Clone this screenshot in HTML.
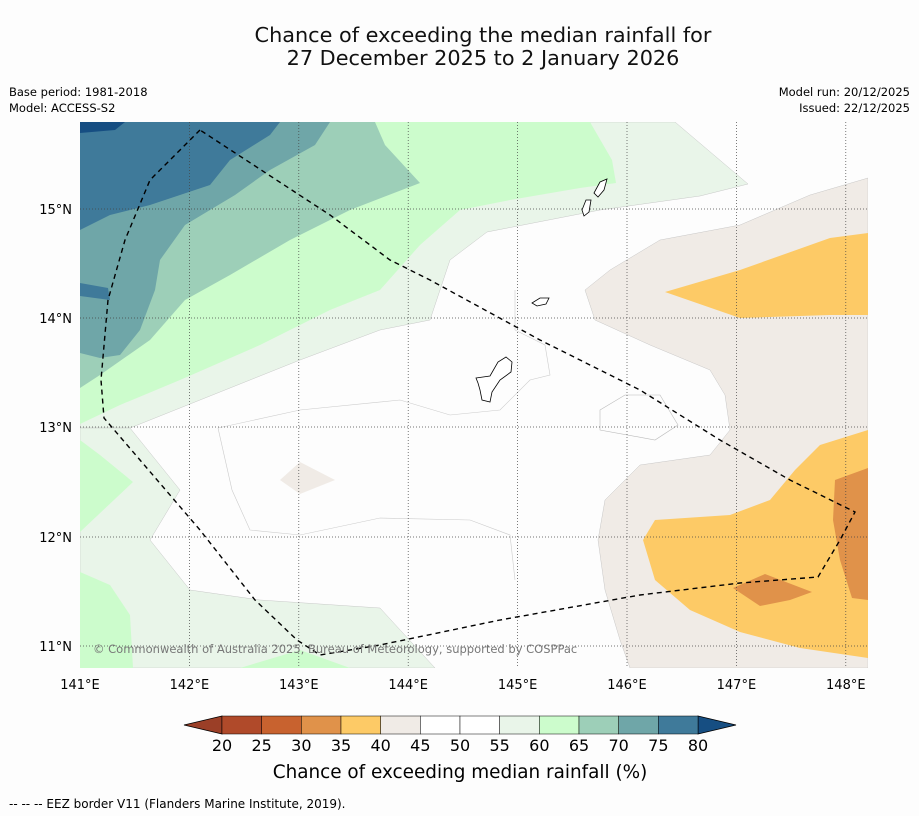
<!DOCTYPE html>
<html><head><meta charset="utf-8"><style>
body{margin:0;background:#fdfdfd;font-family:"DejaVu Sans","Liberation Sans",sans-serif;}
svg{display:block}
</style></head><body>
<svg width="919" height="816" viewBox="0 0 919 816" font-family="DejaVu Sans, Liberation Sans, sans-serif">
<rect width="919" height="816" fill="#fdfdfd"/>
<text x="483" y="42" font-size="20.8" text-anchor="middle" fill="#111">Chance of exceeding the median rainfall for</text>
<text x="483" y="65" font-size="20.8" text-anchor="middle" fill="#111">27 December 2025 to 2 January 2026</text>
<text x="9" y="96" font-size="11.5">Base period: 1981-2018</text>
<text x="9" y="112" font-size="11.5">Model: ACCESS-S2</text>
<text x="910" y="96" font-size="11.5" text-anchor="end">Model run: 20/12/2025</text>
<text x="910" y="112" font-size="11.5" text-anchor="end">Issued: 22/12/2025</text>
<defs><clipPath id="mc"><rect x="80" y="122" width="788" height="546"/></clipPath></defs>
<g clip-path="url(#mc)">
<rect x="80" y="122" width="788" height="546" fill="#fdfdfd"/>
<polygon fill="#e9f5e9" stroke="#bbb" stroke-width="0.4" points="80,122 675,122 748,184 700,196 600,210 487,232 450,260 430,320 380,330 300,360 200,400 130,428 80,428"/>
<polygon fill="#e9f5e9" stroke="#bbb" stroke-width="0.4" points="80,428 130,428 180,490 150,540 190,590 260,600 380,608 435,668 80,668"/>
<polygon fill="#ccfccc" points="80,122 590,122 612,160 616,183 580,188 510,200 460,210 420,245 380,290 330,310 260,345 180,380 120,405 80,424"/>
<polygon fill="#ccfccc" points="80,572 110,585 130,615 133,668 80,668"/>
<polygon fill="#ccfccc" points="80,440 100,455 133,482 80,532"/>
<polygon fill="#ccfccc" points="240,668 300,650 350,668"/>
<polygon fill="#9dcfb8" points="80,122 375,122 385,145 420,183 350,210 290,240 230,275 185,300 150,340 100,375 80,388"/>
<polygon fill="#6fa6a8" points="80,122 330,122 315,145 270,170 235,195 185,225 160,260 155,290 140,330 120,355 100,358 80,353"/>
<polygon fill="#3f7a9a" points="80,122 280,122 270,135 230,160 210,185 150,205 110,215 80,230"/>
<polygon fill="#3f7a9a" points="80,283 108,288 110,300 80,296"/>
<polygon fill="#164e82" points="80,122 125,122 115,130 80,133"/>
<polygon fill="#f0ebe6" stroke="#bbb" stroke-width="0.4" points="868,178 810,195 740,225 660,240 610,270 585,290 595,320 650,345 710,370 725,395 730,430 710,455 640,465 605,500 598,540 605,590 620,640 630,668 868,668"/>
<polygon fill="#f0ebe6" points="280,480 300,462 335,480 300,494"/>
<polygon fill="none" stroke="#bbb" stroke-width="0.6" points="600,410 625,395 660,395 678,425 655,440 600,430"/>
<polyline fill="none" stroke="#ccc" stroke-width="0.6" points="218,428 300,410 400,400 450,415 500,410 530,380 550,375 545,345 515,330 515,290"/>
<polyline fill="none" stroke="#ccc" stroke-width="0.6" points="218,428 232,490 250,530 300,535 380,518 470,520 510,535 515,580"/>
<polygon fill="#fdca66" points="665,292 740,270 830,238 868,233 868,315 830,315 740,318"/>
<polygon fill="#fdca66" points="868,430 820,445 795,470 770,500 730,515 655,520 643,540 655,580 690,610 740,632 800,648 868,658"/>
<polygon fill="#e0924a" points="868,468 835,480 833,520 840,560 852,598 868,600"/>
<polygon fill="#e0924a" points="733,588 765,574 812,592 790,600 760,606"/>
<g stroke="#444" stroke-width="0.7" stroke-dasharray="1,2">
<line x1="189.4" y1="122" x2="189.4" y2="668"/><line x1="298.8" y1="122" x2="298.8" y2="668"/><line x1="408.2" y1="122" x2="408.2" y2="668"/><line x1="517.6" y1="122" x2="517.6" y2="668"/><line x1="627" y1="122" x2="627" y2="668"/><line x1="736.4" y1="122" x2="736.4" y2="668"/><line x1="845.8" y1="122" x2="845.8" y2="668"/>
<line x1="80" y1="209" x2="868" y2="209"/><line x1="80" y1="318" x2="868" y2="318"/><line x1="80" y1="427" x2="868" y2="427"/><line x1="80" y1="537" x2="868" y2="537"/><line x1="80" y1="646" x2="868" y2="646"/>
</g>
<polygon fill="#fff" stroke="#000" stroke-width="0.8" points="476,378 490,376 498,362 506,357 512,362 511,372 500,380 492,392 490,402 482,400 480,390 478,383"/>
<polygon fill="#fff" stroke="#000" stroke-width="0.8" points="532,303 540,298 549,298 546,304 537,306"/>
<polygon fill="#fff" stroke="#000" stroke-width="0.8" points="582,210 586,200 591,200 589,212 584,216"/>
<polygon fill="#fff" stroke="#000" stroke-width="0.8" points="594,193 600,182 607,179 604,190 598,197"/>
<polyline fill="none" stroke="#000" stroke-width="1.4" stroke-dasharray="5,4" points="200,130 150,180 125,240 108,300 101,380 104,418 140,460 200,530 255,600 297,640 320,655 380,645 500,620 640,595 740,583 818,577 840,540 855,512 790,480 720,440 640,390 540,340 430,280 390,260 330,215 200,130"/>
<text x="93" y="653" font-size="11.5" fill="#777">© Commonwealth of Australia 2025, Bureau of Meteorology, supported by COSPPac</text>
</g>
<g font-size="13" text-anchor="end">
<text x="72" y="214">15°N</text><text x="72" y="323">14°N</text><text x="72" y="432">13°N</text><text x="72" y="542">12°N</text><text x="72" y="651">11°N</text>
</g>
<g font-size="13" text-anchor="middle">
<text x="80" y="689">141°E</text><text x="189.4" y="689">142°E</text><text x="298.8" y="689">143°E</text><text x="408.2" y="689">144°E</text><text x="517.6" y="689">145°E</text><text x="627" y="689">146°E</text><text x="736.4" y="689">147°E</text><text x="845.8" y="689">148°E</text>
</g>
<g id="cbar"></g>
<text x="460" y="778" font-size="18.4" text-anchor="middle">Chance of exceeding median rainfall (%)</text>
<text x="9" y="808" font-size="12">--  --  -- EEZ border V11 (Flanders Marine Institute, 2019).</text>
</svg>
<script>
const bounds=[20,25,30,35,40,45,50,55,60,65,70,75,80];
const colors=["#b04a2a","#c8622f","#e0924a","#fdca66","#f0ebe6","#ffffff","#ffffff","#e9f5e9","#ccfccc","#9dcfb8","#6fa6a8","#3f7a9a"];
const lowColor="#9b3f27", highColor="#164e82";
const NS="http://www.w3.org/2000/svg";
const g=document.getElementById('cbar');
const x0=222,x1=698,y0=716,h=18;
const sx=v=>x0+(v-bounds[0])/(bounds[bounds.length-1]-bounds[0])*(x1-x0);
function mk(t,a){const e=document.createElementNS(NS,t);for(const k in a)e.setAttribute(k,a[k]);g.appendChild(e);return e;}
let lt=mk('polygon',{points:`184,${y0+h/2} ${x0},${y0} ${x0},${y0+h}`,fill:lowColor,stroke:'#000','stroke-width':0.8});


let rt=mk('polygon',{points:`736,${y0+h/2} ${x1},${y0} ${x1},${y0+h}`,fill:highColor,stroke:'#000','stroke-width':0.8});


colors.forEach((c,i)=>{
 const r=mk('rect',{x:sx(bounds[i]),y:y0,width:sx(bounds[i+1])-sx(bounds[i]),height:h,fill:c,stroke:'#000','stroke-width':0.5});
 
 
});
bounds.forEach(b=>{
 const t=mk('text',{x:sx(b),y:751,'font-size':16,'text-anchor':'middle'});
 t.textContent=b;
 
 
});
</script>
</body></html>
